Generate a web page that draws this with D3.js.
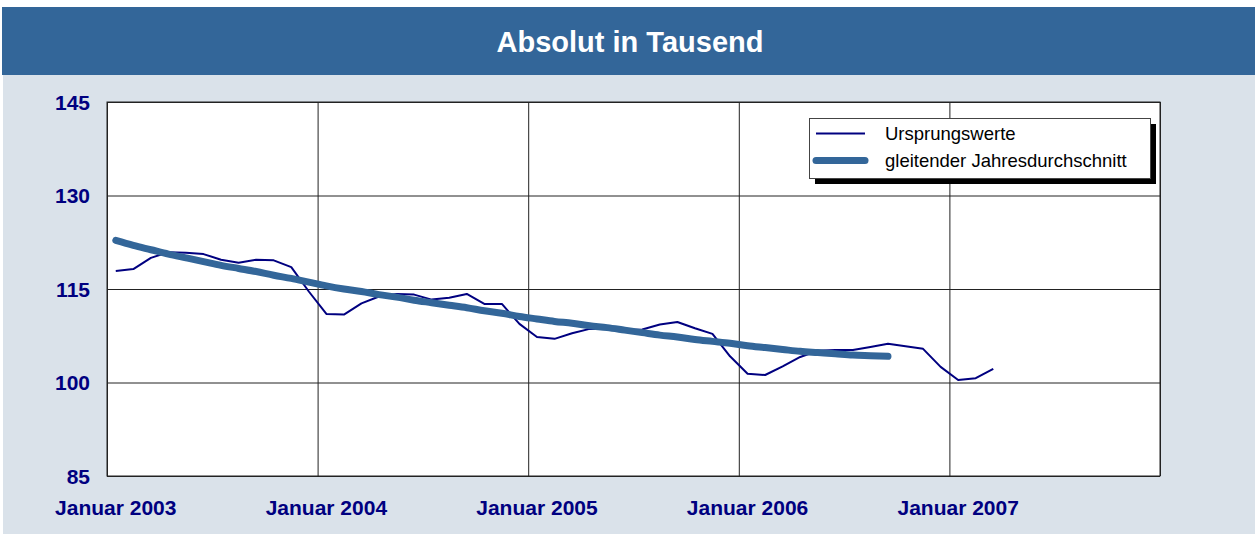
<!DOCTYPE html>
<html>
<head>
<meta charset="utf-8">
<title>Absolut in Tausend</title>
<script src="https://d3js.org/d3.v7.min.js"></script>
<style>
    body { margin: 0; background: #ffffff; font-family: "Liberation Sans", Arial, sans-serif; }
    .tick-label { font-weight: bold; font-size: 21px; fill: #000080; }
    .legend-text { font-size: 18.5px; fill: #000000; }
</style>
</head>
<body>
<script>
    // monthly values from Januar 2003 on
    var ursprungswerte = [
        117.9, 118.2, 120.0, 120.9, 120.8, 120.6, 119.7, 119.2, 119.7, 119.6, 118.5, 114.6,
        111.0, 110.9, 112.7, 113.8, 114.2, 114.1, 113.3, 113.6, 114.2, 112.6, 112.6, 109.4,
        107.3, 107.0, 107.9, 108.6, 108.6, 108.4, 108.5, 109.3, 109.7, 108.7, 107.8, 104.2,
        101.4, 101.2, 102.6, 104.1, 105.1, 105.2, 105.2, 105.7, 106.2, 105.8, 105.4, 102.5,
        100.4, 100.7, 102.2
    ];
    var jahresdurchschnitt = [
        122.8, 122.0, 121.3, 120.6, 120.0, 119.4, 118.8, 118.3, 117.8, 117.2, 116.7, 116.1,
        115.5, 115.0, 114.6, 114.1, 113.7, 113.2, 112.8, 112.4, 112.0, 111.5, 111.1, 110.6,
        110.2, 109.8, 109.5, 109.1, 108.8, 108.4, 108.0, 107.6, 107.3, 106.9, 106.6, 106.3,
        105.9, 105.6, 105.3, 105.0, 104.8, 104.6, 104.4, 104.3, 104.2
    ];
    var yTicks = [85, 100, 115, 130, 145];
    var xTickMonths = [0, 12, 24, 36, 48];
    var xTickLabels = ["Januar 2003", "Januar 2004", "Januar 2005", "Januar 2006", "Januar 2007"];
    var legendLabels = ["Ursprungswerte", "gleitender Jahresdurchschnitt"];

    var W = 1255, H = 534;
    var plot = {left: 107, top: 102, width: 1053, height: 374};

    var svg = d3.select('body').append('svg')
        .attr('width', W)
        .attr('height', H);

    // background and title bar
    svg.append('rect')
        .attr('x', 3).attr('y', 75)
        .attr('width', W - 3).attr('height', H - 75)
        .attr('fill', '#dae2ea');

    svg.append('rect')
        .attr('x', 2).attr('y', 7)
        .attr('width', W - 2).attr('height', 68)
        .attr('fill', '#336699');

    svg.append('text')
        .attr('x', 630).attr('y', 52)
        .attr('text-anchor', 'middle')
        .attr('font-size', 29)
        .attr('font-weight', 'bold')
        .attr('fill', '#ffffff')
        .text('Absolut in Tausend');

    // scales
    var x = d3.scaleLinear().domain([0, 60]).range([plot.left, plot.left + plot.width]);
    var y = d3.scaleLinear().domain([85, 145]).range([plot.top + plot.height, plot.top]);

    function monthX(i) { return x(i + 0.5); }

    svg.append('rect')
        .attr('x', plot.left).attr('y', plot.top)
        .attr('width', plot.width).attr('height', plot.height)
        .attr('fill', '#ffffff');

    // horizontal gridlines
    var yAxis = d3.axisLeft(y)
        .tickValues(yTicks)
        .tickSize(-plot.width)
        .tickFormat('');
    var gy = svg.append('g')
        .attr('transform', 'translate(' + plot.left + ',0)')
        .call(yAxis);
    gy.select('.domain').remove();
    gy.selectAll('line').attr('stroke', '#222222').attr('stroke-width', 1);

    // vertical gridlines at year starts
    var xAxis = d3.axisBottom(x)
        .tickValues([0, 12, 24, 36, 48, 60])
        .tickSize(-plot.height)
        .tickFormat('');
    var gx = svg.append('g')
        .attr('transform', 'translate(0,' + (plot.top + plot.height) + ')')
        .call(xAxis);
    gx.select('.domain').remove();
    gx.selectAll('line').attr('stroke', '#222222').attr('stroke-width', 1);

    svg.append('rect')
        .attr('x', plot.left).attr('y', plot.top)
        .attr('width', plot.width).attr('height', plot.height)
        .attr('fill', 'none')
        .attr('stroke', '#222222')
        .attr('stroke-width', 1);

    // tick labels
    svg.append('g').selectAll('text')
        .data(yTicks)
        .enter().append('text')
        .attr('class', 'tick-label')
        .attr('x', 90)
        .attr('y', function(d) { return y(d); })
        .attr('dy', '0.36em')
        .attr('text-anchor', 'end')
        .text(function(d) { return d; });

    svg.append('g').selectAll('text')
        .data(xTickMonths)
        .enter().append('text')
        .attr('class', 'tick-label')
        .attr('x', function(d) { return monthX(d); })
        .attr('y', 515)
        .attr('text-anchor', 'middle')
        .text(function(d, i) { return xTickLabels[i]; });

    // lines
    var line = d3.line()
        .x(function(d, i) { return monthX(i); })
        .y(function(d) { return y(d); });

    var smooth = d3.line()
        .x(function(d, i) { return monthX(i); })
        .y(function(d) { return y(d); })
        .curve(d3.curveMonotoneX);

    svg.append('path')
        .datum(ursprungswerte)
        .attr('d', line)
        .attr('fill', 'none')
        .attr('stroke', '#000080')
        .attr('stroke-width', 2)
        .attr('stroke-linejoin', 'round');

    svg.append('path')
        .datum(jahresdurchschnitt)
        .attr('d', smooth)
        .attr('fill', 'none')
        .attr('stroke', '#336699')
        .attr('stroke-width', 7)
        .attr('stroke-linecap', 'round')
        .attr('stroke-linejoin', 'round');

    // legend
    var legend = svg.append('g').attr('transform', 'translate(809,118)');
    legend.append('rect')
        .attr('x', 6).attr('y', 6)
        .attr('width', 341).attr('height', 60)
        .attr('fill', '#000000');
    legend.append('rect')
        .attr('x', 0.5).attr('y', 0.5)
        .attr('width', 341).attr('height', 60)
        .attr('fill', '#ffffff')
        .attr('stroke', '#444444')
        .attr('stroke-width', 1);

    var legendStyles = [
        {color: '#000080', width: 2, cap: 'butt'},
        {color: '#336699', width: 7, cap: 'round'}
    ];
    legendLabels.forEach(function(label, i) {
        var cy = 15.5 + i * 27;
        legend.append('line')
            .attr('x1', 7).attr('x2', 56)
            .attr('y1', cy).attr('y2', cy)
            .attr('stroke', legendStyles[i].color)
            .attr('stroke-width', legendStyles[i].width)
            .attr('stroke-linecap', legendStyles[i].cap);
        legend.append('text')
            .attr('class', 'legend-text')
            .attr('x', 76)
            .attr('y', cy + 6)
            .text(label);
    });
</script>
</body>
</html>
